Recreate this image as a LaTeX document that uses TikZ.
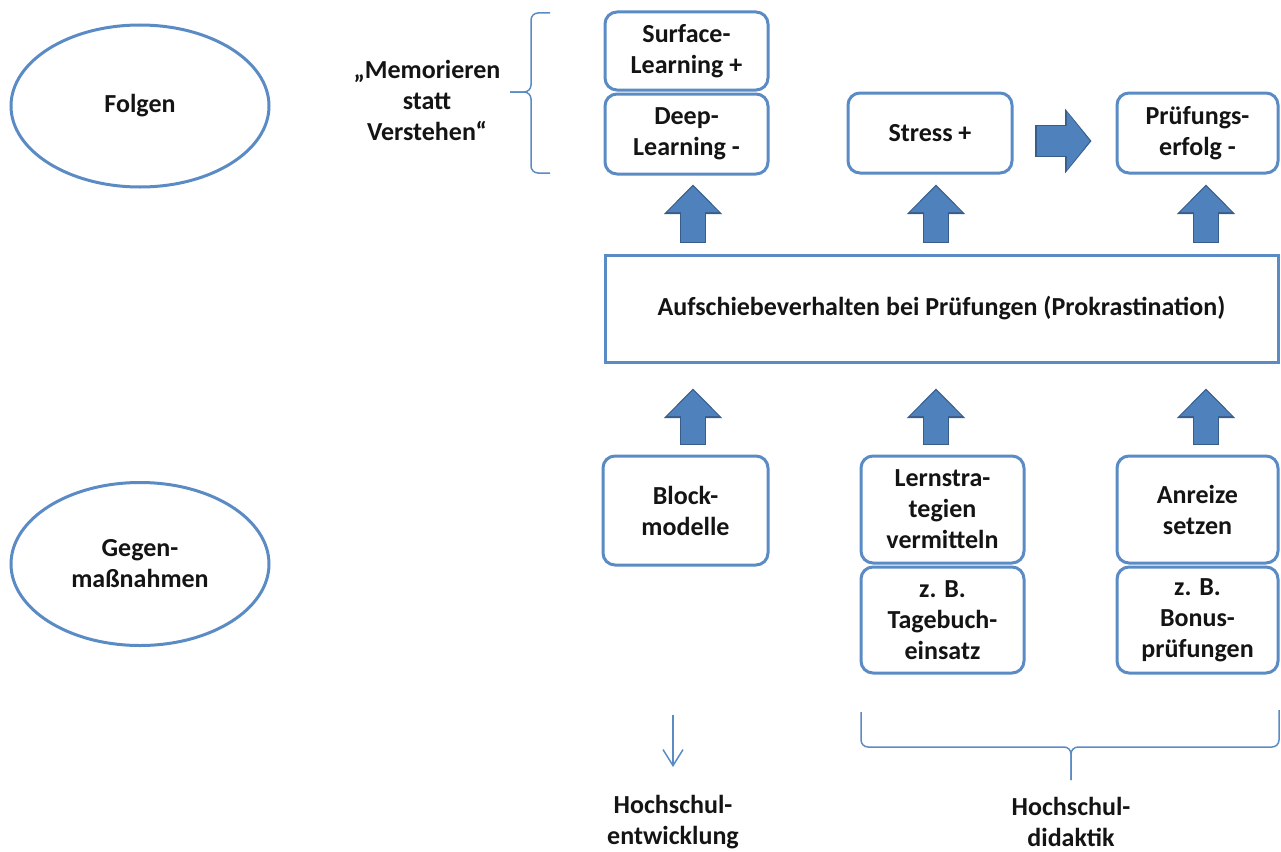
\documentclass[tikz,border=0pt]{standalone}
\usepackage{fontspec}
\setmainfont{Carlito}
\usetikzlibrary{shapes.geometric,arrows.meta,calc}
\definecolor{boxblue}{RGB}{91,139,196}
\definecolor{arrfill}{RGB}{79,129,189}
\definecolor{arrline}{RGB}{56,93,138}
\definecolor{txt}{RGB}{20,20,20}
\begin{document}
\begin{tikzpicture}[x=1pt,y=-1pt,
  every node/.style={font=\fontsize{26}{31}\selectfont\bfseries, text=txt, align=center, inner sep=0pt},
  rbox/.style={draw=boxblue, line width=3pt, rounded corners=12pt, fill=white},
  sqbox/.style={draw=boxblue, line width=3pt, fill=white},
  ell/.style={ellipse, draw=boxblue, line width=3pt, minimum width=258pt},
  lbl/.style={},
  fatarrow/.style={draw=arrfill, line width=24pt, -{Triangle[length=26pt,width=50pt,fill=arrfill]}, shorten >=1.7pt,
     preaction={draw=arrline, line width=26.5pt, -{Triangle[length=29.5pt,width=56.5pt,fill=arrline]}, shorten >=0pt, shorten <=-1.2pt}},
  fatarrowh/.style={draw=arrfill, line width=30pt, -{Triangle[length=23pt,width=57pt,fill=arrfill]}, shorten >=1.7pt,
     preaction={draw=arrline, line width=32.5pt, -{Triangle[length=26.5pt,width=63.5pt,fill=arrline]}, shorten >=0pt, shorten <=-1.2pt}},
  thinline/.style={draw=boxblue, line width=1.5pt},
  thinarrow/.style={draw=boxblue, line width=1.5pt, -{Straight Barb[length=16pt,width=20pt]}}
]
\useasboundingbox (0,0) rectangle (1281,851);

% ellipses
\node[ell, minimum height=162pt] (folgen) at (140,106) {Folgen};
\node[ell, minimum height=163pt] (gegen) at (140,564) {Gegen-\\maßnahmen};

% brace label
\node[lbl] (memo) at (427,100) {„Memorieren\\statt\\Verstehen“};
\coordinate (bt1) at (550,13);
\coordinate (bt2) at (531,13);
\coordinate (btip) at (531,92);
\coordinate (btipend) at (510,92);
\coordinate (bb2) at (531,173);
\coordinate (bb1) at (550,173);
\draw[thinline, rounded corners=7pt] (bt1) -- (bt2) -- (btip) -- (btipend);
\draw[thinline, rounded corners=7pt] (bb1) -- (bb2) -- (btip) -- (btipend);

% top row boxes
\node[rbox, minimum width=163pt, minimum height=78pt] (surf) at (686.5,51) {Surface-\\Learning +};
\node[rbox, minimum width=163pt, minimum height=80pt] (deep) at (686.5,134) {Deep-\\Learning -};
\node[rbox, minimum width=164pt, minimum height=80pt] (stress) at (930,133) {Stress +};
\node[rbox, minimum width=161pt, minimum height=80pt] (pruef) at (1197.5,133) {Prüfungs-\\erfolg -};

% main box
\node[sqbox, minimum width=673pt, minimum height=107pt] (main) at (941.5,308.5) {Aufschiebeverhalten bei Prüfungen (Prokrastination)};

% bottom row boxes
\node[rbox, minimum width=165pt, minimum height=109pt] (block) at (685.5,510.5) {Block-\\modelle};
\node[rbox, minimum width=163pt, minimum height=107pt] (lern) at (942.5,509.5) {Lernstra-\\tegien\\vermitteln};
\node[rbox, minimum width=163pt, minimum height=106pt] (tage) at (942.5,620) {z. B.\\Tagebuch-\\einsatz};
\node[rbox, minimum width=161pt, minimum height=107pt] (anreiz) at (1197.5,509.5) {Anreize\\setzen};
\node[rbox, minimum width=161pt, minimum height=106pt] (bonus) at (1197.5,620) {z. B.\\Bonus-\\prüfungen};

% column coordinates for the block arrows
\coordinate (c1) at (693,0);
\coordinate (c2) at (936,0);
\coordinate (c3) at (1206,0);

% fat arrows top
\draw[fatarrow] ($(main.north -| c1)+(0,-12)$) -- ($(deep.south -| c1)+(0,9)$);
\draw[fatarrow] ($(main.north -| c2)+(0,-12)$) -- ($(stress.south -| c2)+(0,10)$);
\draw[fatarrow] ($(main.north -| c3)+(0,-12)$) -- ($(pruef.south -| c3)+(0,10)$);
% fat arrows middle
\draw[fatarrow] ($(block.north -| c1)+(0,-11)$) -- ($(main.south -| c1)+(0,25)$);
\draw[fatarrow] ($(lern.north -| c2)+(0,-11)$) -- ($(main.south -| c2)+(0,25)$);
\draw[fatarrow] ($(anreiz.north -| c3)+(0,-11)$) -- ($(main.south -| c3)+(0,25)$);
% horizontal fat arrow
\draw[fatarrowh] ($(stress.east)+(23,8)$) -- ($(pruef.west)+(-24,8)$);

% bottom labels
\node[lbl] (hsent) at (673,822) {Hochschul-\\entwicklung};
\node[lbl] (hsdid) at (1071,822) {Hochschul-\\didaktik};

% thin down arrow
\coordinate (da1) at (673,715);
\coordinate (da2) at (673,767);
\draw[thinarrow] (da1) -- (da2);

% bottom brace
\coordinate (bl1) at (861,712);
\coordinate (bl2) at (861,747);
\coordinate (bm) at (1071,747);
\coordinate (btipb) at (1071,780);
\coordinate (br1) at (1279,710);
\coordinate (br2) at (1279,747);
\draw[thinline, rounded corners=7pt] (bl1) -- (bl2) -- (bm) -- (btipb);
\draw[thinline, rounded corners=7pt] (br1) -- (br2) -- (bm) -- (btipb);
\end{tikzpicture}
\end{document}
